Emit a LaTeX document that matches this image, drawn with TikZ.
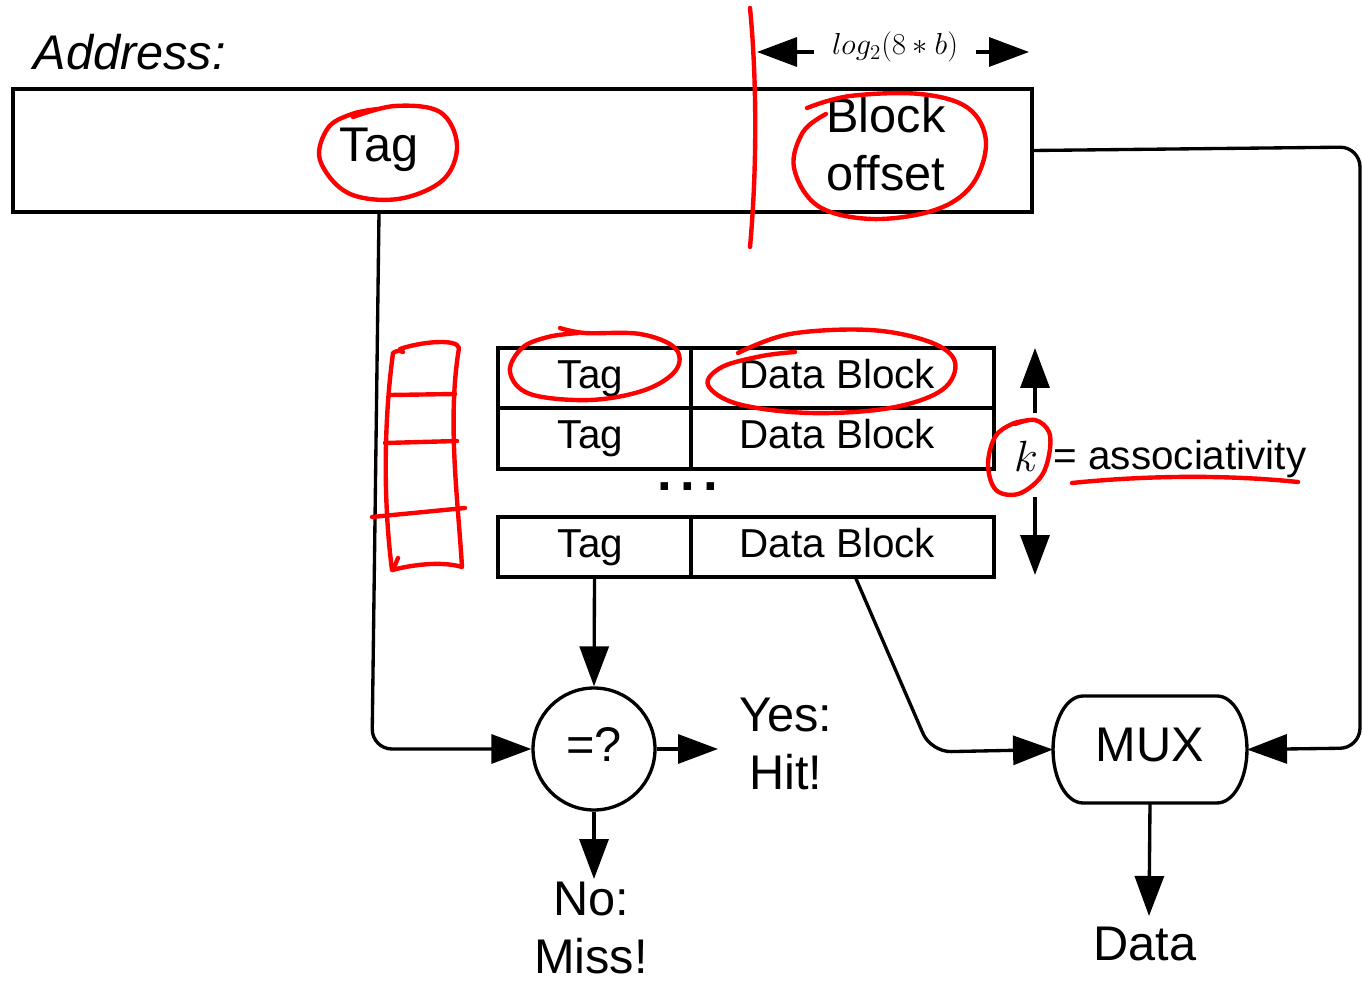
\documentclass[tikz,border=0pt]{standalone}
\usepackage{fontspec}
\setmainfont{Liberation Sans}
\usetikzlibrary{arrows.meta,calc}
\begin{document}
\begin{tikzpicture}[x=0.02cm,y=-0.02cm,
  line width=1.9pt,
  bigtxt/.style={font=\fontsize{27.7}{33}\selectfont},
  midtxt/.style={font=\fontsize{23}{27}\selectfont},
  cell/.style={draw, rectangle, inner sep=0pt, midtxt, text height=16.5pt, text depth=4.8pt},
  arr/.style={-{Triangle[length=0.8cm,width=0.58cm]}},
  conn/.style={arr, rounded corners=0.4cm},
  redpen/.style={draw=red, line width=2.5pt, line cap=round, line join=round},
]
\useasboundingbox (0,0) rectangle (1362,982);

% --- address word ---
\node[bigtxt, anchor=base west, inner sep=0] (addrLabel) at (32,70) {\itshape Address:};
\node[draw, rectangle, minimum width=20.38cm, minimum height=2.46cm, inner sep=0] (addr) at (522.5,150.5) {};
\node[bigtxt, anchor=base, inner sep=0] (addrTag) at (379,162) {Tag};
\node[bigtxt, align=center, inner sep=0] (addrOff) at (886,144) {Block\\offset};

% --- width of the block offset field ---
\node[font=\fontsize{17}{20}\selectfont, inner xsep=0.33cm, inner ysep=0] (logb) at (895,47) {$log_2(8*b)$};
\coordinate (wl) at (757,52);
\coordinate (wr) at (1029,52);
\draw[arr] (logb.west |- wl) -- (wl);
\draw[arr] (logb.east |- wr) -- (wr);

% --- one set: k ways of tag + data block ---
\node[cell, minimum width=3.86cm, minimum height=1.2cm] (t1) at (594.5,378) {Tag\kern0.16cm};
\node[cell, minimum width=6.06cm, minimum height=1.2cm] (d1) at (842.5,378) {Data Block\kern0.2cm};
\node[cell, minimum width=3.86cm, minimum height=1.22cm] (t2) at (594.5,438.5) {Tag\kern0.16cm};
\node[cell, minimum width=6.06cm, minimum height=1.22cm] (d2) at (842.5,438.5) {Data Block\kern0.2cm};
\node[cell, minimum width=3.86cm, minimum height=1.2cm] (t3) at (594.5,547) {Tag\kern0.16cm};
\node[cell, minimum width=6.06cm, minimum height=1.2cm] (d3) at (842.5,547) {Data Block\kern0.2cm};
\node[font=\fontsize{30}{30}\selectfont\bfseries, inner sep=0] (dots) at (688,487) {.\kern4.8pt.\kern4.8pt.};

% --- associativity ---
\node[font=\fontsize{35}{40}\selectfont, anchor=base, inner sep=0] (kVar) at (1026,472) {$k$};
\node[midtxt, anchor=base west, inner sep=0] (assoc) at (1052,470) {= associativity};
\coordinate (kTop) at (1035,348);
\coordinate (kBot) at (1035,575);
\coordinate (kUp) at (1035,413);
\coordinate (kDn) at (1035,497);
\draw[arr] (kUp) -- (kTop);
\draw[arr] (kDn) -- (kBot);

% --- comparator ---
\node[draw, circle, minimum size=2.44cm, inner sep=0, bigtxt, text height=19.8pt, text depth=5.8pt] (cmp) at (594,749) {=?};
\node[bigtxt, align=center, inner sep=0] (hit) at (786,743.5) {Yes:\\Hit!};
\node[bigtxt, align=center, inner sep=0] (miss) at (591,928) {No:\\Miss!};
\coordinate (hitTip) at (718,749);
\coordinate (missTip) at (594,879);
\draw[arr] (t3.south) -- (cmp.north);
\draw[arr] (cmp.east) -- (hitTip);
\draw[arr] (cmp.south) -- (missTip);

% --- multiplexer: flat top and bottom, half-elliptic sides ---
\node[rectangle, minimum width=3.88cm, minimum height=2.14cm, inner sep=0, outer sep=0, bigtxt, text height=19.8pt, text depth=5.8pt] (mux) at (1150,749.5) {MUX};
\draw[line join=round] ($(mux.north west)+(30,0)$) -- ($(mux.north east)+(-30,0)$)
  arc[start angle=90, end angle=-90, x radius=0.6cm, y radius=1.07cm]
  -- ($(mux.south west)+(30,0)$)
  arc[start angle=270, end angle=90, x radius=0.6cm, y radius=1.07cm] -- cycle;
\coordinate (dataTip) at (1149,916);
\draw[arr] (mux.south) -- (dataTip);
\node[bigtxt, anchor=base, inner sep=0] (dataOut) at (1145,960) {Data};

% --- wires ---
\coordinate (tagBend) at (372,749);
\draw[conn] (addr.south -| addrTag) -- (tagBend) -- (cmp.west);
\coordinate (muxBend) at (931,752);
\draw[conn] ([xshift=0.27cm]d3.south) -- (muxBend) -- (mux.west);
\coordinate (offBendA) at (1360,147);
\coordinate (offBendB) at (1360,748);
\draw[conn] (addr.east) -- (offBendA) -- (offBendB) -- (mux.east);

% --- red pen annotations ---
\draw[redpen] (750,8) .. controls (757,80) and (757,170) .. (750,247);
\draw[redpen] plot[smooth, tension=0.6] coordinates {(353,117) (395,106) (440,112) (457,145) (443,180) (398,199) (348,193) (320,160) (328,128) (352,114) (378,109)};
\draw[redpen] plot[smooth, tension=0.6] coordinates {(807,108) (850,96) (920,94) (968,108) (986,142) (972,185) (935,210) (872,219) (818,206) (794,168) (803,132) (826,114)};
\draw[redpen] plot[smooth, tension=0.6] coordinates {(560,328) (585,333) (640,334) (675,348) (676,370) (645,390) (590,400) (530,394) (510,372) (522,348) (548,337) (578,333)};
\draw[redpen] plot[smooth, tension=0.6] coordinates {(738,353) (790,334) (870,330) (930,342) (955,362) (942,390) (890,408) (810,413) (738,404) (708,385) (722,367) (762,356) (795,352)};
\draw[redpen] plot[smooth, tension=0.6] coordinates {(1015,424) (1035,420) (1049,432) (1049,455) (1040,478) (1018,494) (996,490) (988,465) (995,437) (1012,424) (1030,420)};
\draw[redpen] (1072,483) .. controls (1150,475) and (1230,475) .. (1298,482);
% ladder of sets
\draw[redpen] (403,352) .. controls (399,350) and (396,351) .. (393,353) .. controls (384,420) and (383,500) .. (392,570) .. controls (420,563) and (445,562) .. (462,567) .. controls (458,500) and (447,420) .. (459,348) .. controls (457,338) and (420,342) .. (400,349);
\draw[redpen] (398,558) -- (393,570);
\draw[redpen] (390,395) -- (455,394);
\draw[redpen] (385,443) -- (457,441);
\draw[redpen] (372,517) -- (465,508);
\end{tikzpicture}
\end{document}
